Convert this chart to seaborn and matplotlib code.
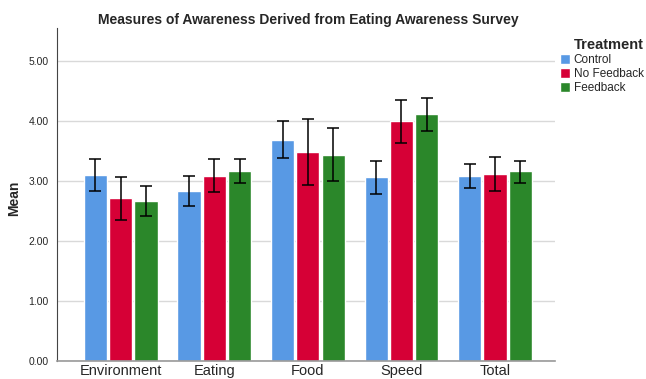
import matplotlib

matplotlib.use("Agg")
import matplotlib.pyplot as plt
import numpy as np
import pandas as pd
import seaborn as sns

# %% Data
measures = ["Environment", "Eating", "Food", "Speed", "Total"]
treatments = ["Control", "No Feedback", "Feedback"]

means = {
    "Control": [3.10, 2.84, 3.68, 3.07, 3.09],
    "No Feedback": [2.71, 3.09, 3.49, 4.00, 3.12],
    "Feedback": [2.67, 3.16, 3.44, 4.11, 3.16],
}
ci_low = {
    "Control": [2.83, 2.59, 3.38, 2.79, 2.89],
    "No Feedback": [2.35, 2.81, 2.94, 3.64, 2.84],
    "Feedback": [2.42, 2.96, 3.00, 3.83, 2.96],
}
ci_high = {
    "Control": [3.37, 3.09, 4.00, 3.34, 3.28],
    "No Feedback": [3.07, 3.37, 4.03, 4.35, 3.40],
    "Feedback": [2.92, 3.37, 3.88, 4.39, 3.34],
}
colors = ["#5899e4", "#d60036", "#2b872a"]

rows = []
for t in treatments:
    for i, m in enumerate(measures):
        rows.append({"measure": m, "treatment": t, "mean": means[t][i]})
df = pd.DataFrame(rows)

# %% Plot
sns.set_style("white")
plt.rcParams["font.family"] = ["Liberation Sans", "DejaVu Sans"]

fig = plt.figure(figsize=(6.46, 3.79), dpi=100)
ax = fig.add_axes([57 / 646, 18 / 379, (555 - 57) / 646, (361 - 28) / 379])

sns.barplot(
    data=df,
    x="measure",
    y="mean",
    hue="treatment",
    order=measures,
    hue_order=treatments,
    palette=colors,
    errorbar=None,
    width=0.81,
    gap=0.08,
    saturation=1,
    ax=ax,
    zorder=2,
)

# error bars from the read-off interval bounds
for cont, t in zip(ax.containers, treatments):
    xs = [b.get_x() + b.get_width() / 2 for b in cont]
    m = np.array(means[t])
    lo = m - np.array(ci_low[t])
    hi = np.array(ci_high[t]) - m
    ax.errorbar(xs, m, yerr=[lo, hi], fmt="none", ecolor="black",
                elinewidth=1.1, capsize=4, capthick=1.1, zorder=3)

ax.set_xlim(-0.68, 4.64)
ax.set_ylim(0, 5.55)
ax.set_yticks([0, 1, 2, 3, 4, 5])
ax.set_yticklabels([f"{v:.2f}" for v in [0, 1, 2, 3, 4, 5]], fontsize=7.5)
ax.tick_params(axis="x", labelsize=10.5, length=0, pad=2.5)
ax.tick_params(axis="y", length=0, pad=6)
ax.yaxis.grid(True, color="#d9d9d9", lw=1, zorder=0)
ax.set_axisbelow(True)

for s in ["top", "right"]:
    ax.spines[s].set_visible(False)
ax.spines["left"].set_color("#444444")
ax.spines["left"].set_linewidth(0.8)
ax.spines["bottom"].set_color("#999999")
ax.spines["bottom"].set_linewidth(1.2)

ax.set_xlabel("")
ax.set_ylabel("Mean", fontsize=10, fontweight="bold")
ax.yaxis.set_label_coords(-0.072, 0.49)
fig.suptitle("Measures of Awareness Derived from Eating Awareness Survey",
             x=308 / 646, y=0.965, fontsize=10, fontweight="bold")

leg = ax.legend(
    title="Treatment",
    loc="upper left",
    bbox_to_anchor=(0.995, 0.99),
    frameon=False,
    fontsize=8.5,
    title_fontproperties={"weight": "bold", "size": 10.5},
    handlelength=0.9,
    handleheight=0.9,
    handletextpad=0.3,
    labelspacing=0.15,
    borderaxespad=0.2,
)
leg._legend_box.align = "right"

fig.savefig("out.png", dpi=100)
plt.close(fig)
